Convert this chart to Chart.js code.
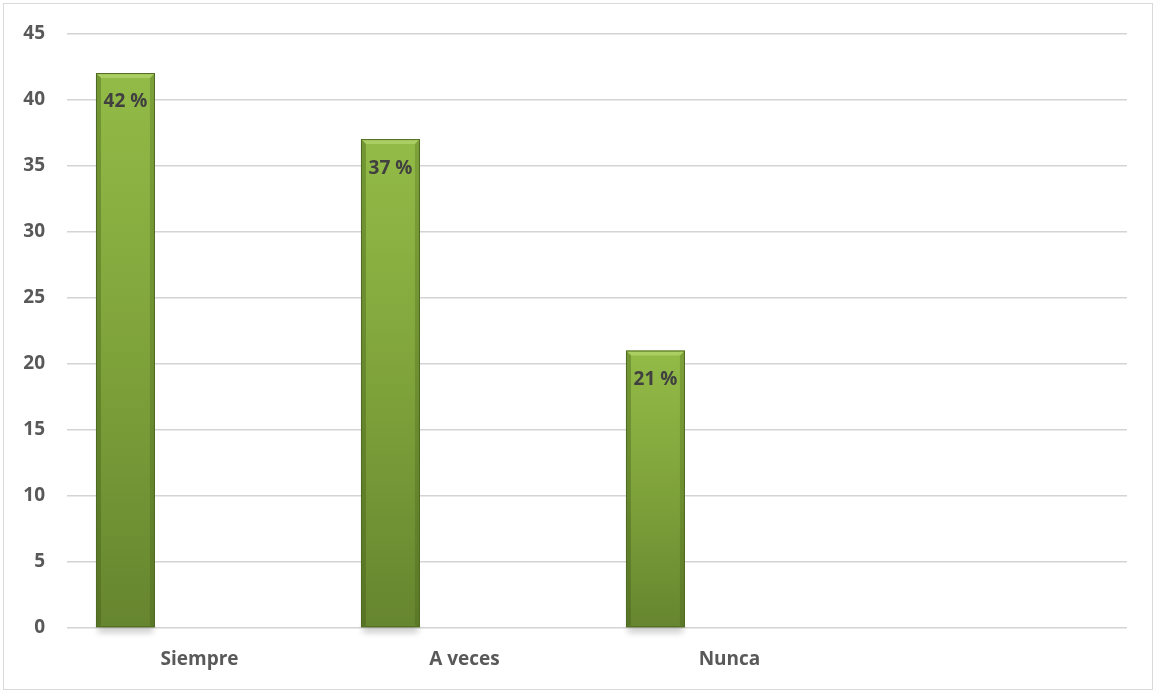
<!DOCTYPE html>
<html>
<head>
<meta charset="utf-8">
<script src="https://cdn.jsdelivr.net/npm/chart.js@4.4.1/dist/chart.umd.min.js"></script>
<style>
  html, body { margin: 0; padding: 0; background: #fff; }
  #wrap { position: relative; width: 1155px; height: 691px; }
  #frame { position: absolute; left: 3px; top: 3px; width: 1148px; height: 685px;
           border: 1px solid #d9d9d9; pointer-events: none; }
</style>
</head>
<body>
<div id="wrap">
  <canvas id="chart" width="1155" height="691"></canvas>
  <div id="frame"></div>
</div>
<script>
// categories and values
var categories = ["Siempre", "A veces", "Nunca", ""];
var respuestas = [42, 37, 21, null];
var pctLabels  = ["42 %", "37 %", "21 %", ""];
var yTicks     = [0, 5, 10, 15, 20, 25, 30, 35, 40, 45];

var labelFont = { family: "'Open Sans', 'Liberation Sans', sans-serif", size: 19, weight: 'bold' };

function barFill(ctx) {
  var chart = ctx.chart;
  if (!chart.chartArea || ctx.raw == null) { return '#7fa23a'; }
  var y = chart.scales.y;
  var top = y.getPixelForValue(ctx.raw);
  var base = y.getPixelForValue(0);
  var g = chart.ctx.createLinearGradient(0, top, 0, base);
  g.addColorStop(0, '#93bb47');
  g.addColorStop(0.5, '#7fa33b');
  g.addColorStop(1, '#66852f');
  return g;
}

// soft shadow under each bar, like the office bevel style
var barShadow = {
  id: 'barShadow',
  beforeDatasetsDraw: function(chart) {
    var c = chart.ctx;
    var meta = chart.getDatasetMeta(0);
    c.save();
    meta.data.forEach(function(bar, i) {
      if (respuestas[i] == null) return;
      var w = bar.width;
      c.shadowColor = 'rgba(0,0,0,0.4)';
      c.shadowBlur = 6;
      c.shadowOffsetY = 5;
      c.fillStyle = 'rgba(120,120,120,0.6)';
      c.fillRect(bar.x - w / 2 + 2, bar.base - 6, w - 4, 6);
    });
    c.restore();
  }
};

// bevel edges and the percentage texts
var barDecor = {
  id: 'barDecor',
  afterDatasetsDraw: function(chart) {
    var c = chart.ctx;
    var meta = chart.getDatasetMeta(0);
    c.save();
    meta.data.forEach(function(bar, i) {
      if (respuestas[i] == null) return;
      var l = bar.x - bar.width / 2, r = bar.x + bar.width / 2;
      var t = bar.y, b = bar.base, e = 5;
      // top bevel
      c.fillStyle = 'rgba(200,230,130,0.45)';
      c.beginPath();
      c.moveTo(l, t); c.lineTo(r, t); c.lineTo(r - e, t + e); c.lineTo(l + e, t + e);
      c.closePath(); c.fill();
      // left side
      c.fillStyle = 'rgba(60,85,20,0.35)';
      c.beginPath();
      c.moveTo(l, t); c.lineTo(l + e, t + e); c.lineTo(l + e, b - 2); c.lineTo(l, b);
      c.closePath(); c.fill();
      // right side
      c.fillStyle = 'rgba(60,85,20,0.25)';
      c.beginPath();
      c.moveTo(r, t); c.lineTo(r - e, t + e); c.lineTo(r - e, b - 2); c.lineTo(r, b);
      c.closePath(); c.fill();
      // outline
      c.strokeStyle = '#4f6b22';
      c.lineWidth = 1;
      c.strokeRect(l + 0.5, t + 0.5, bar.width - 1, b - t - 1);
      // label
      c.fillStyle = '#404040';
      c.font = 'bold 19px ' + labelFont.family;
      c.textAlign = 'center';
      c.textBaseline = 'middle';
      c.fillText(pctLabels[i], bar.x, t + 29);
    });
    c.restore();
  }
};

new Chart(document.getElementById('chart'), {
  type: 'bar',
  data: {
    labels: categories,
    datasets: [
      { label: 'Respuestas', data: respuestas, backgroundColor: barFill, borderWidth: 0 },
      { label: '', data: [], backgroundColor: 'transparent' },
      { label: '', data: [], backgroundColor: 'transparent' }
    ]
  },
  options: {
    responsive: false,
    animation: false,
    categoryPercentage: 0.838,
    barPercentage: 0.797,
    layout: { padding: { left: 0, top: 32, right: 28, bottom: 0 } },
    plugins: {
      legend: { display: false },
      tooltip: { enabled: false }
    },
    scales: {
      x: {
        grid: { display: false, drawTicks: false },
        border: { display: false },
        ticks: { color: '#595959', font: labelFont, padding: 20 },
        afterFit: function(s) { s.height = 63; }
      },
      y: {
        min: 0,
        max: 45,
        afterBuildTicks: function(s) { s.ticks = yTicks.map(function(v) { return { value: v }; }); },
        grid: { color: '#d4d4d4', lineWidth: 1.6, drawTicks: false },
        border: { display: false },
        ticks: { color: '#595959', font: labelFont, padding: 22 },
        afterFit: function(s) { s.width = 67; }
      }
    }
  },
  plugins: [barShadow, barDecor]
});
</script>
</body>
</html>
